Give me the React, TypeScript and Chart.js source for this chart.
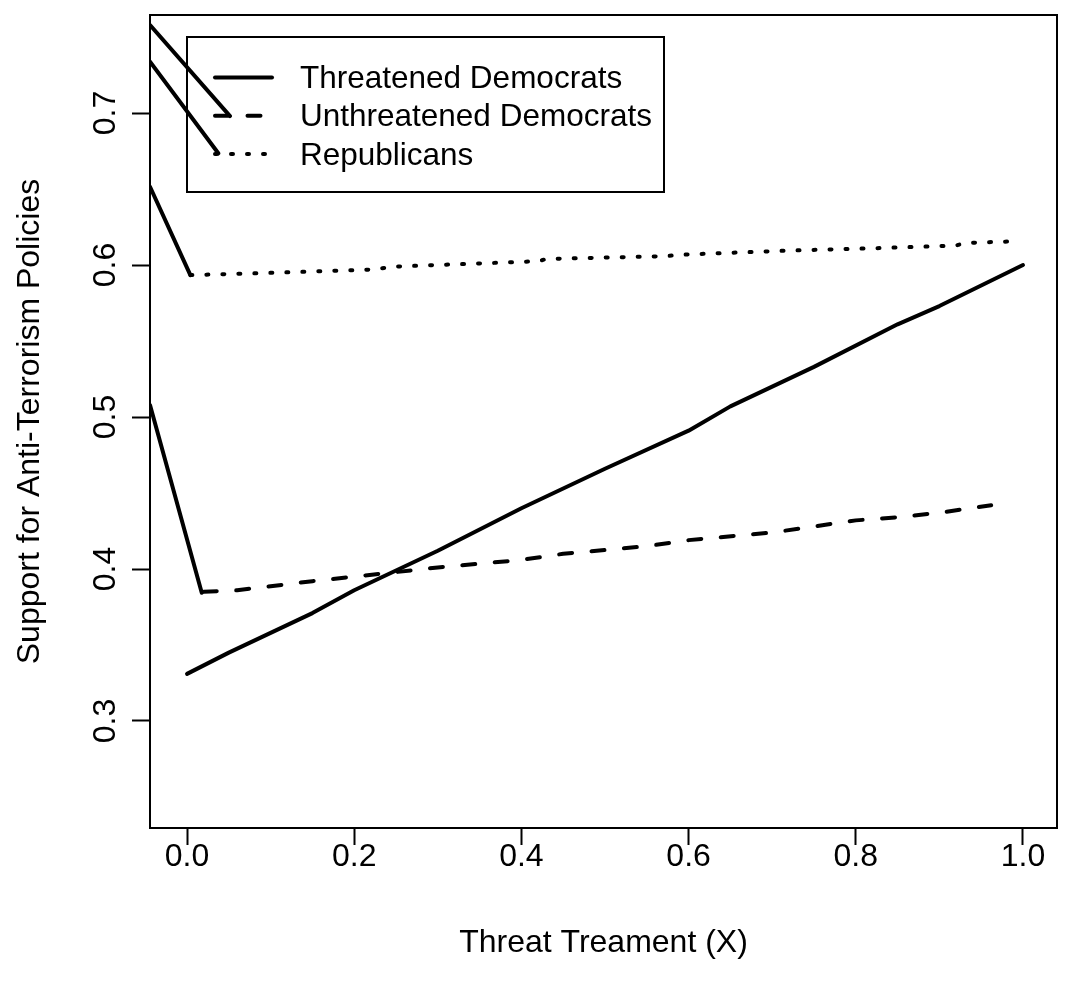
import React, { useEffect, useRef } from 'react';
import { Chart, registerables } from 'chart.js';

Chart.register(...registerables);

// ---- axes ----
const X_TICKS = [0, 0.2, 0.4, 0.6, 0.8, 1.0];
const Y_TICKS = [0.3, 0.4, 0.5, 0.6, 0.7];
const X_MIN = -0.0443;
const X_MAX = 1.0407;
const Y_MIN = 0.2296;
const Y_MAX = 0.7645;

const X_TITLE = 'Threat Treament (X)';
const Y_TITLE = 'Support for Anti-Terrorism Policies';
const SERIES_LABELS = ['Threatened Democrats', 'Unthreatened Democrats', 'Republicans'];

// ---- series ----
const threatX = [0, 0.05, 0.15, 0.2, 0.3, 0.4, 0.5, 0.6, 0.65, 0.75, 0.85, 0.9, 1.0];
const threatY = [0.331, 0.345, 0.371, 0.386, 0.412, 0.44, 0.466, 0.491, 0.507, 0.533, 0.561, 0.573, 0.6];

const unthreatX = [0.02, 0.06, 0.15, 0.25, 0.3, 0.4, 0.45, 0.55, 0.6, 0.7, 0.8, 0.85, 0.9, 0.962];
const unthreatY = [0.385, 0.386, 0.392, 0.398, 0.401, 0.406, 0.41, 0.415, 0.419, 0.424, 0.432, 0.434, 0.437, 0.442];

const repX = [0.004, 0.08, 0.22, 0.25, 0.42, 0.43, 0.57, 0.6, 0.72, 0.82, 0.92, 0.93, 0.985];
const repY = [0.5934, 0.5945, 0.597, 0.599, 0.6025, 0.604, 0.6058, 0.607, 0.6095, 0.611, 0.6128, 0.6145, 0.6155];

// stray solid segments entering from the left edge of the plot
const strayAX = [X_MIN, 0.0514];
const strayAY = [0.7579, 0.698];
const strayBX = [X_MIN, 0.0374];
const strayBY = [0.7338, 0.6735];
const strayCX = [X_MIN, 0.004];
const strayCY = [0.6515, 0.5934];
const strayDX = [X_MIN, 0.0176];
const strayDY = [0.5079, 0.3844];

// legend anchor (top-left corner, data units)
const LEGEND_X = 0;
const LEGEND_Y = 0.75;

const FONT = "32px 'Liberation Sans', Arial, Helvetica, sans-serif";
const LEGEND_FONT = "31.5px 'Liberation Sans', Arial, Helvetica, sans-serif";

const pts = (xs: number[], ys: number[]) => xs.map((x, i) => ({ x, y: ys[i] }));

const lineDs = (xs: number[], ys: number[], dash: number[]) => ({
  data: pts(xs, ys),
  showLine: true,
  borderColor: '#000',
  backgroundColor: '#000',
  borderWidth: 4,
  borderDash: dash,
  borderCapStyle: 'round' as const,
  borderJoinStyle: 'round' as const,
  pointRadius: 0,
  pointHoverRadius: 0,
  tension: 0,
  fill: false,
  clip: 0,
});

const DASHES = [[], [13, 19.5], [2, 14]];

const rPlot = {
  id: 'rPlot',
  afterDraw(chart: any) {
    const { ctx, chartArea: a, scales } = chart;
    const xs = scales.x;
    const ys = scales.y;
    ctx.save();
    ctx.strokeStyle = '#000';
    ctx.fillStyle = '#000';
    ctx.lineWidth = 2;
    ctx.setLineDash([]);
    ctx.strokeRect(a.left, a.top, a.right - a.left, a.bottom - a.top);

    // legend
    const lx = Math.round(xs.getPixelForValue(LEGEND_X));
    const ly = Math.round(ys.getPixelForValue(LEGEND_Y));
    ctx.strokeRect(lx, ly, 477, 155);
    ctx.font = LEGEND_FONT;
    ctx.textAlign = 'left';
    ctx.textBaseline = 'middle';
    SERIES_LABELS.forEach((lab, i) => {
      const yy = ly + 40.5 + i * 38.3;
      ctx.beginPath();
      ctx.lineWidth = 4;
      ctx.lineCap = 'round';
      ctx.setLineDash(DASHES[i]);
      ctx.moveTo(lx + 28, yy);
      ctx.lineTo(lx + 85, yy);
      ctx.stroke();
      ctx.setLineDash([]);
      ctx.fillText(lab, lx + 113, yy + 2);
    });

    // tick labels
    ctx.font = FONT;
    ctx.textAlign = 'center';
    ctx.textBaseline = 'middle';
    xs.ticks.forEach((t: any) => {
      ctx.fillText(t.value.toFixed(1), xs.getPixelForValue(t.value), a.bottom + 29);
    });
    ys.ticks.forEach((t: any) => {
      const py = ys.getPixelForValue(t.value);
      ctx.save();
      ctx.translate(a.left - 44, py);
      ctx.rotate(-Math.PI / 2);
      ctx.fillText(t.value.toFixed(1), 0, 0);
      ctx.restore();
    });

    // titles
    ctx.fillText(X_TITLE, (a.left + a.right) / 2, a.bottom + 115);
    ctx.save();
    ctx.translate(30, (a.top + a.bottom) / 2);
    ctx.rotate(-Math.PI / 2);
    ctx.fillText(Y_TITLE, 0, 0);
    ctx.restore();
    ctx.restore();
  },
};

export default function App() {
  const ref = useRef<HTMLCanvasElement>(null);
  useEffect(() => {
    if (!ref.current) return;
    const chart = new Chart(ref.current, {
      type: 'scatter',
      data: {
        datasets: [
          lineDs(threatX, threatY, DASHES[0]),
          lineDs(unthreatX, unthreatY, DASHES[1]),
          lineDs(repX, repY, DASHES[2]),
          lineDs(strayAX, strayAY, []),
          lineDs(strayBX, strayBY, []),
          lineDs(strayCX, strayCY, []),
          lineDs(strayDX, strayDY, []),
        ] as any,
      },
      options: {
        responsive: false,
        animation: false,
        devicePixelRatio: 1,
        layout: { padding: { left: 0, top: 15, right: 29, bottom: 0 } },
        plugins: { legend: { display: false }, tooltip: { enabled: false } },
        events: [],
        scales: {
          x: {
            type: 'linear',
            min: X_MIN,
            max: X_MAX,
            afterBuildTicks: (s: any) => {
              s.ticks = X_TICKS.map((v) => ({ value: v }));
            },
            afterFit: (s: any) => {
              s.height = 164;
            },
            grid: { drawOnChartArea: false, drawTicks: true, tickLength: 17, tickWidth: 2, tickColor: '#000' },
            border: { display: true, color: '#000', width: 2 },
            ticks: { display: false },
          },
          y: {
            type: 'linear',
            min: Y_MIN,
            max: Y_MAX,
            afterBuildTicks: (s: any) => {
              s.ticks = Y_TICKS.map((v) => ({ value: v }));
            },
            afterFit: (s: any) => {
              s.width = 150;
            },
            grid: { drawOnChartArea: false, drawTicks: true, tickLength: 18, tickWidth: 2, tickColor: '#000' },
            border: { display: true, color: '#000', width: 2 },
            ticks: { display: false },
          },
        },
      } as any,
      plugins: [rPlot],
    });
    return () => chart.destroy();
  }, []);
  return (
    <div style={{ position: 'absolute', left: 0, top: 0, width: 1086, height: 992, background: '#fff' }}>
      <canvas ref={ref} width={1086} height={992} style={{ display: 'block' }} />
    </div>
  );
}
